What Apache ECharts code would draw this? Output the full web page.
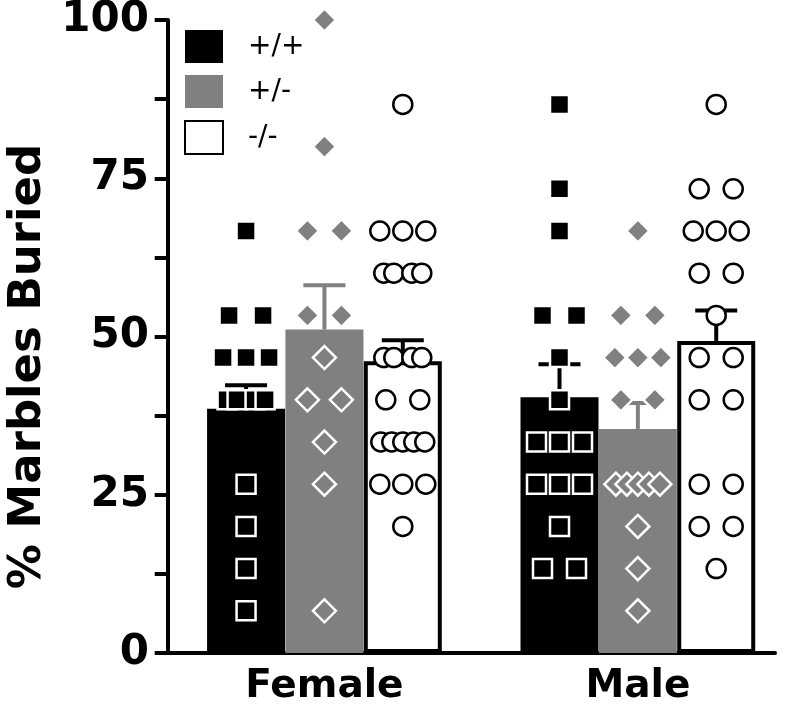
<!DOCTYPE html>
<html>
<head>
<meta charset="utf-8">
<script src="https://cdn.jsdelivr.net/npm/echarts@6/dist/echarts.min.js"></script>
<style>html,body{margin:0;padding:0;background:#fff}#c{width:800px;height:709px}</style>
</head>
<body>
<div id="c"></div>
<script>
// ---- data ----
const categories = ['Female', 'Male'];
const genotypes = ['+/+', '+/-', '-/-'];
const yTicks = [0, 25, 50, 75, 100];

// bar heights (mean % buried) per category
const meanWT  = [38.6, 40.4];
const meanHet = [51.1, 35.4];
const meanKO  = [46.1, 49.3];
// SEM (upper error bar) per category
const semWT  = [3.7, 5.2];
const semHet = [7.0, 4.1];
const semKO  = [3.3, 4.8];

// individual animals (% of 15 marbles buried)
const femaleWT  = [6.67, 13.33, 20, 26.67, 40, 40, 40, 40, 46.67, 46.67, 46.67, 53.33, 53.33, 66.67];
const femaleHet = [6.67, 26.67, 33.33, 40, 40, 46.67, 53.33, 53.33, 66.67, 66.67, 80, 100];
const femaleKO  = [20, 26.67, 26.67, 26.67, 33.33, 33.33, 33.33, 33.33, 33.33, 40, 40, 46.67, 46.67, 46.67, 46.67, 60, 60, 60, 60, 66.67, 66.67, 66.67, 86.67];
const maleWT    = [13.33, 13.33, 20, 26.67, 26.67, 26.67, 33.33, 33.33, 33.33, 40, 46.67, 53.33, 53.33, 66.67, 73.33, 86.67];
const maleHet   = [6.67, 13.33, 20, 26.67, 26.67, 26.67, 26.67, 26.67, 40, 40, 46.67, 46.67, 46.67, 53.33, 53.33, 66.67];
const maleKO    = [13.33, 20, 20, 26.67, 26.67, 40, 40, 46.67, 46.67, 53.33, 60, 60, 66.67, 66.67, 66.67, 73.33, 73.33, 86.67];

// ---- layout helpers (not data) ----
const GRAY = '#808080';
const catCenter = [2, 6];          // positions of the category groups on the x scale
const genoShift = [-1, 0, 1];      // bar slot within a group
const jitter = {1: [0], 2: [-17, 17], 3: [-23, 0, 23], 4: [-19, -9, 9, 19], 5: [-22, -11, 0, 11, 22]};

function barData(means, g) {
  return means.map((m, c) => [catCenter[c] + genoShift[g], m]);
}
function errData(means, sems, g) {
  return means.map((m, c) => [catCenter[c] + genoShift[g], m, sems[c]]);
}
function pointData(lists, g) {
  const out = [];
  lists.forEach((vals, c) => {
    const x = catCenter[c] + genoShift[g];
    const counts = {};
    vals.forEach(v => { counts[v] = (counts[v] || 0) + 1; });
    const seen = {};
    vals.forEach(v => {
      const n = counts[v];
      const i = seen[v] = (seen[v] === undefined ? 0 : seen[v] + 1);
      const pat = jitter[n] || jitter[5];
      out.push({value: [x, v], symbolOffset: [pat[i] || 0, 0]});
    });
  });
  return out;
}

const fontBold = 'DejaVu Sans';
const chart = echarts.init(document.getElementById('c'), null, {renderer: 'canvas'});

function errSeries(name, means, sems, g, color) {
  return {
    type: 'custom', name: name, z: 3, clip: false,
    data: errData(means, sems, g),
    encode: {x: 0, y: 1},
    renderItem: function (params, api) {
      const x = api.value(0), m = api.value(1), s = api.value(2);
      const p0 = api.coord([x, m]);
      const p1 = api.coord([x, m + s]);
      const style = {stroke: color, lineWidth: 4, fill: null};
      return {
        type: 'group',
        children: [
          {type: 'line', shape: {x1: p0[0], y1: p0[1], x2: p1[0], y2: p1[1]}, style: style},
          {type: 'line', shape: {x1: p1[0] - 21, y1: p1[1], x2: p1[0] + 21, y2: p1[1]}, style: style}
        ]
      };
    }
  };
}

const option = {
  animation: false,
  backgroundColor: '#fff',
  grid: {left: 163, right: 25, top: 20, bottom: 56, containLabel: false, outerBoundsMode: 'none'},
  legend: {
    orient: 'vertical', left: 179, top: 25,
    itemWidth: 38, itemHeight: 33, itemGap: 12,
    selectedMode: false,
    data: genotypes.map(n => ({name: n, icon: 'rect'})),
    textStyle: {fontFamily: 'DejaVu Sans', fontSize: 28, color: '#000', padding: [0, 0, 0, 20]}
  },
  xAxis: {
    type: 'value', min: -0.06, max: 7.75,
    splitLine: {show: false},
    axisLine: {show: true, lineStyle: {color: '#000', width: 4}},
    axisTick: {show: false},
    axisLabel: {
      customValues: catCenter,
      formatter: v => categories[catCenter.indexOf(v)] || '',
      fontFamily: fontBold, fontWeight: 'bold', fontSize: 39, color: '#000', margin: 14
    }
  },
  yAxis: {
    type: 'value', min: yTicks[0], max: yTicks[yTicks.length - 1], interval: 25,
    name: '% Marbles Buried', nameLocation: 'middle', nameRotate: 90, nameGap: 98,
    nameTextStyle: {fontFamily: fontBold, fontWeight: 'bold', fontSize: 45, color: '#000', padding: [0, 60, 0, 0]},
    splitLine: {show: false},
    axisLine: {show: true, lineStyle: {color: '#000', width: 4}},
    axisTick: {show: true, length: 13, lineStyle: {color: '#000', width: 4}},
    minorTick: {show: true, splitNumber: 2, length: 13, lineStyle: {color: '#000', width: 4}},
    axisLabel: {fontFamily: fontBold, fontWeight: 'bold', fontSize: 42, color: '#000', margin: 14}
  },
  series: [
    {type: 'bar', name: '+/+', data: barData(meanWT, 0), barWidth: 78, barGap: '-100%', z: 2,
     itemStyle: {color: '#000'}},
    {type: 'bar', name: '+/-', data: barData(meanHet, 1), barWidth: 78, barGap: '-100%', z: 2,
     itemStyle: {color: GRAY}},
    {type: 'bar', name: '-/-', data: barData(meanKO, 2), barWidth: 78, barGap: '-100%', z: 2,
     itemStyle: {color: '#fff', borderColor: '#000', borderWidth: 4}},
    errSeries('err +/+', meanWT, semWT, 0, '#000'),
    errSeries('err +/-', meanHet, semHet, 1, GRAY),
    errSeries('err -/-', meanKO, semKO, 2, '#000'),
    {type: 'scatter', name: 'pts +/+', z: 4, clip: false, symbol: 'rect', symbolSize: 19,
     itemStyle: {color: '#000', borderColor: '#fff', borderWidth: 2.5, opacity: 1},
     data: pointData([femaleWT, maleWT], 0)},
    {type: 'scatter', name: 'pts +/-', z: 4, clip: false, symbol: 'diamond', symbolSize: 23,
     itemStyle: {color: GRAY, borderColor: '#fff', borderWidth: 2.5, opacity: 1},
     data: pointData([femaleHet, maleHet], 1)},
    {type: 'scatter', name: 'pts -/-', z: 4, clip: false, symbol: 'circle', symbolSize: 19,
     itemStyle: {color: '#fff', borderColor: '#000', borderWidth: 2.5, opacity: 1},
     data: pointData([femaleKO, maleKO], 2)}
  ]
};
chart.setOption(option);
</script>
</body>
</html>
